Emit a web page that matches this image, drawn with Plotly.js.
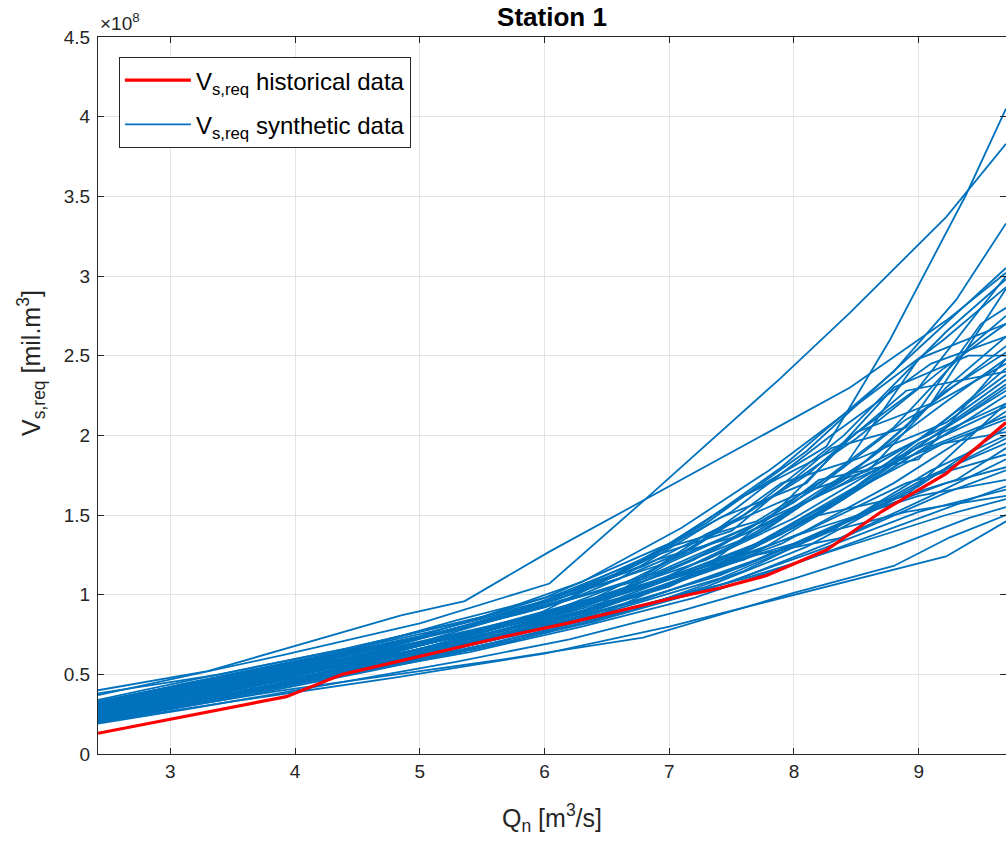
<!DOCTYPE html>
<html>
<head>
<meta charset="utf-8">
<script src="https://cdn.plot.ly/plotly-3.0.1.min.js"></script>
<style>html,body{margin:0;padding:0;background:#fff;}#chart{width:1006px;height:842px;}</style>
</head>
<body>
<div id="chart"></div>
<script>
// Values in units of 1e8 m^3 (axis shows ×10^8)
const histQ = [2.42, 2.97, 3.93, 4.38, 4.97, 5.64, 6.18, 6.98, 7.40, 7.78, 8.26, 8.70, 9.22, 9.70];
const histV = [0.13, 0.215, 0.36, 0.50, 0.61, 0.73, 0.82, 0.97, 1.04, 1.12, 1.28, 1.52, 1.76, 2.08];

const synQ = [
  [2.42, 3.9, 5.0, 6.04, 6.81, 7.88, 8.45, 9.22, 9.70],
  [2.42, 3.3, 4.85, 5.36, 6.04, 7.0, 8.45, 9.22, 9.70],
  [2.42, 3.9, 5.0, 6.0, 7.0, 7.6, 8.26, 8.77, 9.38, 9.70],
  [2.42, 3.9, 5.0, 6.2, 7.0, 7.9, 8.8, 9.3, 9.70],
  [2.42, 3.5, 4.6, 5.6, 6.5, 7.3, 8.1, 9.0, 9.70],
  [2.42, 3.7, 4.9, 5.9, 6.8, 7.6, 8.4, 9.22, 9.70],
  [2.42, 3.2, 4.4, 5.5, 6.3, 7.1, 7.8, 8.6, 9.2, 9.70],
  [2.42, 3.4, 4.5, 5.5, 6.4, 7.2, 8.0, 8.8, 9.4, 9.70],
  [2.42, 3.9, 4.8, 5.8, 6.6, 7.5, 8.3, 9.1, 9.70],
  [2.42, 3.3, 4.2, 5.2, 6.2, 7.0, 7.8, 8.6, 9.22, 9.70],
  [2.42, 3.6, 4.7, 5.7, 6.7, 7.4, 8.2, 8.9, 9.70],
  [2.42, 3.5, 4.6, 5.4, 6.3, 7.2, 8.1, 8.9, 9.70],
  [2.42, 3.8, 4.9, 5.9, 6.9, 7.7, 8.5, 9.2, 9.70],
  [2.42, 3.2, 4.3, 5.3, 6.1, 7.0, 7.9, 8.7, 9.3, 9.70],
  [2.42, 3.4, 4.4, 5.5, 6.4, 7.3, 8.0, 8.8, 9.70],
  [2.42, 3.6, 4.7, 5.6, 6.6, 7.5, 8.3, 9.0, 9.70],
  [2.42, 3.1, 4.1, 5.1, 6.0, 6.9, 7.8, 8.7, 9.2, 9.70],
  [2.42, 3.5, 4.6, 5.7, 6.7, 7.6, 8.4, 9.1, 9.70],
  [2.42, 3.3, 4.4, 5.4, 6.3, 7.2, 8.1, 8.9, 9.70],
  [2.42, 3.9, 4.9, 5.8, 6.8, 7.7, 8.6, 9.22, 9.70],
  [2.42, 3.7, 4.8, 5.7, 6.5, 7.4, 8.2, 9.0, 9.70],
  [2.42, 3.4, 4.5, 5.5, 6.4, 7.3, 8.2, 9.0, 9.70],
  [2.42, 3.6, 4.6, 5.6, 6.6, 7.6, 8.5, 9.22, 9.70],
  [2.42, 3.2, 4.3, 5.3, 6.2, 7.1, 8.0, 8.8, 9.4, 9.70],
  [2.42, 3.9, 5.0, 5.64, 6.79, 7.99, 8.8, 9.25, 9.70],
  [2.42, 3.5, 4.8, 6.0, 7.0, 8.0, 8.6, 9.22, 9.70],
  [2.42, 3.1, 4.0, 5.0, 6.1, 7.0, 7.9, 8.8, 9.70],
  [2.42, 3.3, 4.2, 5.3, 6.2, 7.1, 8.0, 8.9, 9.70],
  [2.42, 3.0, 4.1, 5.2, 6.3, 7.3, 8.1, 9.0, 9.70],
  [2.42, 3.8, 4.7, 5.9, 6.8, 7.7, 8.5, 9.3, 9.70],
  [2.42, 3.6, 4.5, 5.5, 6.5, 7.4, 8.3, 9.1, 9.70],
  [2.42, 3.2, 4.3, 5.2, 6.0, 6.9, 7.8, 8.6, 9.2, 9.70],
  [2.42, 3.5, 4.6, 5.7, 6.6, 7.5, 8.4, 9.22, 9.70],
  [2.42, 3.3, 4.4, 5.4, 6.4, 7.3, 8.2, 9.0, 9.70],
  [2.42, 3.9, 4.9, 5.8, 6.7, 7.6, 8.4, 9.2, 9.70],
  [2.42, 3.4, 4.6, 5.6, 6.5, 7.5, 8.3, 9.1, 9.70],
  [2.42, 3.7, 4.8, 5.8, 6.8, 7.6, 8.4, 9.1, 9.70],
  [2.42, 3.6, 4.7, 5.7, 6.7, 7.6, 8.5, 9.3, 9.70],
  [2.42, 3.4, 4.4, 5.3, 6.0, 6.8, 7.6, 8.5, 9.2, 9.70],
  [2.42, 3.9, 5.0, 5.8, 6.6, 7.3, 8.0, 8.6, 9.22, 9.70],
  [2.42, 3.4, 4.6, 5.5, 6.4, 7.0, 7.8, 8.5, 9.1, 9.70],
  [2.42, 3.6, 4.9, 5.9, 6.9, 7.5, 8.3, 8.9, 9.5, 9.70],
  [2.42, 3.5, 4.5, 5.6, 6.5, 7.3, 8.2, 9.0, 9.70],
  [2.42, 3.3, 4.4, 5.4, 6.2, 7.0, 7.7, 8.4, 9.0, 9.70],
  [2.42, 3.5, 4.7, 5.6, 6.4, 7.2, 8.0, 8.8, 9.3, 9.70],
  [2.42, 3.9, 4.8, 5.5, 6.3, 7.1, 7.9, 8.5, 9.22, 9.70],
  [2.42, 3.4, 4.3, 5.3, 6.1, 6.8, 7.6, 8.3, 9.0, 9.70],
  [2.42, 3.7, 4.6, 5.7, 6.7, 7.7, 8.4, 9.22, 9.70],
  [2.42, 3.1, 4.2, 5.2, 6.0, 6.9, 7.6, 8.2, 8.9, 9.70],
  [2.42, 3.3, 4.4, 5.4, 6.3, 7.2, 8.1, 8.9, 9.70],
  [2.42, 3.8, 4.9, 5.9, 6.6, 7.4, 8.1, 8.8, 9.4, 9.70],
  [2.42, 3.6, 4.8, 5.9, 6.8, 7.4, 8.2, 8.9, 9.70],
  [2.42, 3.9, 5.1, 6.1, 6.9, 7.6, 8.4, 9.1, 9.70]
];
const synV = [
  [0.37, 0.62, 0.82, 1.07, 1.60, 2.35, 2.77, 3.37, 3.83],
  [0.40, 0.52, 0.87, 0.96, 1.27, 1.68, 2.30, 2.72, 3.02],
  [0.33, 0.56, 0.74, 0.98, 1.32, 1.62, 1.93, 2.60, 3.51, 4.05],
  [0.28, 0.52, 0.70, 0.98, 1.30, 1.80, 2.40, 2.85, 3.33],
  [0.30, 0.47, 0.66, 0.85, 1.10, 1.45, 1.90, 2.55, 3.05],
  [0.26, 0.46, 0.64, 0.85, 1.12, 1.50, 2.00, 2.65, 2.98],
  [0.34, 0.47, 0.66, 0.86, 1.08, 1.42, 1.78, 2.25, 2.60, 2.93],
  [0.24, 0.38, 0.56, 0.74, 0.95, 1.22, 1.58, 2.05, 2.55, 2.75],
  [0.29, 0.53, 0.68, 0.90, 1.14, 1.52, 2.00, 2.45, 2.62],
  [0.22, 0.35, 0.50, 0.68, 0.90, 1.12, 1.42, 1.85, 2.28, 2.52],
  [0.27, 0.45, 0.62, 0.82, 1.05, 1.30, 1.68, 2.10, 2.45],
  [0.31, 0.48, 0.66, 0.80, 1.00, 1.30, 1.75, 2.28, 2.40],
  [0.25, 0.47, 0.63, 0.83, 1.08, 1.38, 1.78, 2.05, 2.32],
  [0.21, 0.32, 0.49, 0.66, 0.84, 1.05, 1.38, 1.75, 2.05, 2.25],
  [0.28, 0.43, 0.59, 0.79, 0.98, 1.22, 1.48, 1.85, 2.18],
  [0.23, 0.40, 0.57, 0.74, 0.96, 1.22, 1.55, 1.90, 2.12],
  [0.32, 0.44, 0.60, 0.77, 0.95, 1.18, 1.48, 1.80, 1.95, 2.02],
  [0.20, 0.35, 0.52, 0.70, 0.90, 1.15, 1.45, 1.75, 1.95],
  [0.26, 0.39, 0.56, 0.72, 0.90, 1.12, 1.40, 1.70, 1.88],
  [0.24, 0.46, 0.60, 0.75, 0.97, 1.22, 1.52, 1.70, 1.80],
  [0.30, 0.50, 0.66, 0.82, 0.99, 1.20, 1.42, 1.62, 1.72],
  [0.22, 0.36, 0.52, 0.67, 0.83, 1.03, 1.28, 1.52, 1.66],
  [0.27, 0.44, 0.58, 0.73, 0.90, 1.10, 1.32, 1.50, 1.60],
  [0.19, 0.29, 0.44, 0.58, 0.72, 0.90, 1.10, 1.30, 1.48, 1.55],
  [0.21, 0.40, 0.52, 0.59, 0.73, 1.01, 1.18, 1.36, 1.50],
  [0.20, 0.33, 0.48, 0.63, 0.80, 1.00, 1.12, 1.24, 1.46],
  [0.25, 0.35, 0.49, 0.65, 0.85, 1.06, 1.32, 1.70, 2.15],
  [0.29, 0.42, 0.56, 0.73, 0.90, 1.12, 1.42, 1.88, 2.30],
  [0.23, 0.31, 0.47, 0.63, 0.82, 1.05, 1.30, 1.68, 2.05],
  [0.27, 0.49, 0.63, 0.84, 1.05, 1.32, 1.68, 2.15, 2.38],
  [0.22, 0.39, 0.53, 0.70, 0.89, 1.10, 1.40, 1.78, 2.00],
  [0.30, 0.43, 0.60, 0.76, 0.92, 1.14, 1.45, 1.85, 2.20, 2.48],
  [0.26, 0.42, 0.59, 0.78, 0.98, 1.24, 1.60, 2.05, 2.28],
  [0.24, 0.37, 0.54, 0.71, 0.90, 1.15, 1.50, 1.95, 2.20],
  [0.28, 0.52, 0.67, 0.84, 1.03, 1.28, 1.62, 1.95, 2.10],
  [0.21, 0.35, 0.53, 0.70, 0.87, 1.08, 1.33, 1.62, 1.85],
  [0.32, 0.53, 0.70, 0.88, 1.10, 1.35, 1.72, 2.20, 2.56],
  [0.25, 0.42, 0.58, 0.75, 0.95, 1.18, 1.48, 1.82, 1.98],
  [0.38, 0.50, 0.66, 0.82, 0.96, 1.18, 1.50, 1.98, 2.42, 2.70],
  [0.27, 0.50, 0.66, 0.80, 1.02, 1.38, 1.62, 1.78, 2.30, 2.62],
  [0.23, 0.37, 0.55, 0.70, 0.92, 1.20, 1.48, 2.02, 2.20, 2.92],
  [0.29, 0.47, 0.66, 0.86, 1.25, 1.40, 1.92, 2.05, 2.70, 2.80],
  [0.25, 0.41, 0.58, 0.80, 1.00, 1.18, 1.72, 1.85, 2.48],
  [0.31, 0.45, 0.62, 0.80, 1.02, 1.30, 1.46, 1.80, 2.48, 2.70],
  [0.21, 0.36, 0.55, 0.72, 0.86, 1.14, 1.32, 1.60, 1.72, 1.92],
  [0.26, 0.48, 0.62, 0.76, 0.94, 1.25, 1.70, 1.85, 2.08, 2.35],
  [0.33, 0.48, 0.62, 0.84, 1.00, 1.22, 1.62, 1.90, 2.30, 3.00],
  [0.24, 0.44, 0.56, 0.76, 0.98, 1.25, 1.36, 1.64, 1.78],
  [0.28, 0.39, 0.57, 0.74, 0.88, 1.08, 1.22, 1.50, 1.62, 2.20],
  [0.20, 0.33, 0.50, 0.64, 0.80, 0.98, 1.22, 1.45, 1.68],
  [0.30, 0.52, 0.70, 0.92, 1.10, 1.48, 1.70, 2.30, 2.50, 2.50],
  [0.22, 0.40, 0.58, 0.78, 0.98, 1.12, 1.38, 1.52, 1.62],
  [0.32, 0.55, 0.75, 0.97, 1.22, 1.38, 1.70, 2.02, 2.42]
];

const xTicks = [3, 4, 5, 6, 7, 8, 9];
const yTicks = [0, 0.5, 1, 1.5, 2, 2.5, 3, 3.5, 4, 4.5];
const yTickText = ['0', '0.5', '1', '1.5', '2', '2.5', '3', '3.5', '4', '4.5'];

const BLUE = '#0072BD';
const RED = '#FF0000';
const FONT = '"Liberation Sans", Arial, Helvetica, sans-serif';
const AX = '#262626';

const traces = [];
synQ.forEach((q, i) => {
  traces.push({
    x: q, y: synV[i], type: 'scatter', mode: 'lines',
    line: {color: BLUE, width: 1.8},
    name: 'V<sub>s,req</sub> synthetic data',
    legendgroup: 'syn', legendrank: 2,
    showlegend: i === 0, hoverinfo: 'skip'
  });
});
traces.push({
  x: histQ, y: histV, type: 'scatter', mode: 'lines',
  line: {color: RED, width: 3.2},
  name: 'V<sub>s,req</sub> historical data',
  legendgroup: 'hist', legendrank: 1, showlegend: true
});

const axisCommon = {
  showline: true, linecolor: AX, linewidth: 1, mirror: 'ticks',
  ticks: 'inside', ticklen: 6, tickcolor: AX, tickwidth: 1,
  showgrid: true, gridcolor: '#e3e3e3', gridwidth: 1,
  zeroline: false,
  tickfont: {family: FONT, size: 19, color: AX}
};

const layout = {
  width: 1006, height: 842,
  margin: {l: 98, r: 0, t: 37, b: 88, pad: 0},
  paper_bgcolor: '#ffffff', plot_bgcolor: '#ffffff',
  font: {family: FONT, color: AX},
  title: {
    text: '<b>Station 1</b>',
    font: {family: FONT, size: 26, color: '#000000'},
    x: 0.5, xref: 'paper', xanchor: 'center',
    y: 1 - 17 / 842, yref: 'container', yanchor: 'middle'
  },
  xaxis: Object.assign({}, axisCommon, {
    range: [2.42, 9.70], tickvals: xTicks, ticktext: xTicks.map(String),
    title: {text: 'Q<sub>n</sub> [m<sup>3</sup>/s]', font: {family: FONT, size: 25, color: AX}, standoff: 28},
    automargin: false
  }),
  yaxis: Object.assign({}, axisCommon, {
    range: [0, 4.5], tickvals: yTicks, ticktext: yTickText,
    ticklabelstandoff: 3,
    automargin: false
  }),
  showlegend: true,
  legend: {
    x: 0.023, y: 0.972, xanchor: 'left', yanchor: 'top',
    bgcolor: '#ffffff', bordercolor: AX, borderwidth: 1,
    font: {family: FONT, size: 24, color: '#000000'},
    tracegroupgap: 10, itemwidth: 66
  },
  annotations: [
    {
      text: '×10<sup>8</sup>', xref: 'paper', yref: 'paper',
      x: 0, y: 1, xanchor: 'left', yanchor: 'bottom', yshift: 1,
      showarrow: false, font: {family: FONT, size: 19, color: AX}
    },
    {
      text: 'V<sub>s,req</sub> [mil.m<sup>3</sup>]', xref: 'paper', yref: 'paper',
      x: (31 - 98) / 908, y: (754 - 363) / 717, xanchor: 'center', yanchor: 'middle',
      textangle: -90, showarrow: false, font: {family: FONT, size: 25, color: AX}
    }
  ]
};

Plotly.newPlot('chart', traces, layout, {displayModeBar: false, staticPlot: true});
</script>
</body>
</html>
